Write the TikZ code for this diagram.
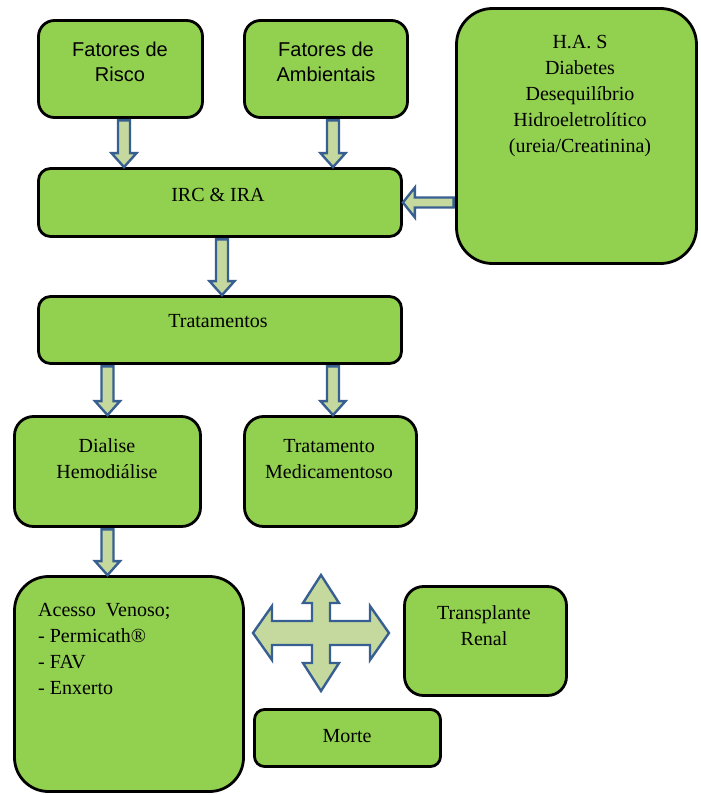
\documentclass[tikz,border=0pt]{standalone}
\usepackage{fontspec}
\setmainfont{Liberation Serif}
\newfontfamily\arialfont{Liberation Sans}
\definecolor{boxgreen}{RGB}{146,208,80}
\definecolor{arrowfill}{RGB}{197,217,158}
\definecolor{arrowblue}{RGB}{56,95,145}
\usetikzlibrary{calc}

% block arrows between two points
\newcommand{\downblock}[2]{%
  \draw[blockarrow] let \p1=(#1), \p2=(#2) in
    (\x1-6pt,\y1-1.5pt) -- (\x1+6pt,\y1-1.5pt) -- (\x1+6pt,\y2+14pt) -- (\x1+12.5pt,\y2+14pt)
    -- (\x1,\y2) -- (\x1-12.5pt,\y2+14pt) -- (\x1-6pt,\y2+14pt) -- cycle;}
\newcommand{\leftblock}[2]{%
  \draw[blockarrow] let \p1=(#1), \p2=(#2) in
    (\x1-1.5pt,\y1+5pt) -- (\x2+12pt,\y1+5pt) -- (\x2+12pt,\y1+15pt) -- (\x2,\y1)
    -- (\x2+12pt,\y1-15pt) -- (\x2+12pt,\y1-5pt) -- (\x1-1.5pt,\y1-5pt) -- cycle;}

\begin{document}
\begin{tikzpicture}[x=1pt,y=-1pt,
    box/.style={draw=black, line width=2.8pt, fill=boxgreen, rounded corners=#1, inner sep=0pt},
    box/.default=15pt,
    txt/.style={inner sep=0pt, align=center, font=\fontsize{20}{26}\selectfont},
    sanstxt/.style={txt, font=\arialfont\fontsize{20}{25}\selectfont},
    blockarrow/.style={draw=arrowblue, fill=arrowfill, line width=2.4pt, line join=miter}]
    \useasboundingbox (0,0) rectangle (701,795);

    % Causes
    \node[box=16pt, minimum width=164, minimum height=97] (risco) at (120.5,69) {};
    \node[sanstxt] (riscot) at (120,61.5) {Fatores de\\Risco};
    \node[box=16pt, minimum width=163, minimum height=97] (amb) at (326,69) {};
    \node[sanstxt] (ambt) at (326,61.5) {Fatores de\\Ambientais};
    \node[box=36pt, minimum width=240, minimum height=255] (has) at (576.5,136) {};
    \node[txt] (hast) at (580,96) {H.A. S\\Diabetes\\Desequilíbrio\\Hidroeletrolítico\\(ureia/Creatinina)};

    % Disease
    \node[box=12pt, minimum width=363, minimum height=68] (irc) at (220,202.5) {};
    \node[txt] (irct) at (218,195) {IRC \& IRA};

    % Treatment
    \node[box=12pt, minimum width=363, minimum height=67] (trat) at (220,330) {};
    \node[txt] (tratt) at (218,321) {Tratamentos};
    \node[box=19pt, minimum width=186, minimum height=110] (dial) at (107.5,471.5) {};
    \node[txt] (dialt) at (107,459) {Dialise\\Hemodiálise};
    \node[box=19pt, minimum width=172, minimum height=110] (med) at (330.5,471.5) {};
    \node[txt] (medt) at (329,459) {Tratamento\\Medicamentoso};

    % Outcomes
    \node[box=34pt, minimum width=229, minimum height=215] (acesso) at (129,684) {};
    \node[txt, align=left, anchor=west] (acessot) at (38,648.5) {Acesso~ Venoso;\\- Permicath®\\- FAV\\- Enxerto};
    \node[box=19pt, minimum width=162, minimum height=109] (transp) at (485.5,641) {};
    \node[txt] (transpt) at (484,626) {Transplante\\Renal};
    \node[box=10pt, minimum width=186, minimum height=57] (morte) at (347.5,738) {};
    \node[txt] (mortet) at (347,736) {Morte};

    % Arrows
    \downblock{[xshift=3.5]risco.south}{irc.north}
    \downblock{[xshift=7]amb.south}{irc.north}
    \leftblock{has.west |- irc.east}{irc.east}
    \downblock{[xshift=2]irc.south}{trat.north}
    \downblock{trat.south -| dial.north}{dial.north}
    \downblock{[xshift=2.5]trat.south -| med.north}{med.north}
    \downblock{dial.south}{acesso.north}

    % Four-way arrow
    \coordinate (cross) at (321,633);
    \draw[blockarrow, shift={(cross)}] (0,-58) -- (18,-30) -- (9,-30) -- (9,-12) -- (49,-12)
      -- (49,-27) -- (68,0) -- (49,27) -- (49,12) -- (9,12) -- (9,30) -- (18,30) -- (0,58)
      -- (-18,30) -- (-9,30) -- (-9,12) -- (-49,12) -- (-49,27) -- (-68,0) -- (-49,-27)
      -- (-49,-12) -- (-9,-12) -- (-9,-30) -- (-18,-30) -- cycle;
\end{tikzpicture}
\end{document}
